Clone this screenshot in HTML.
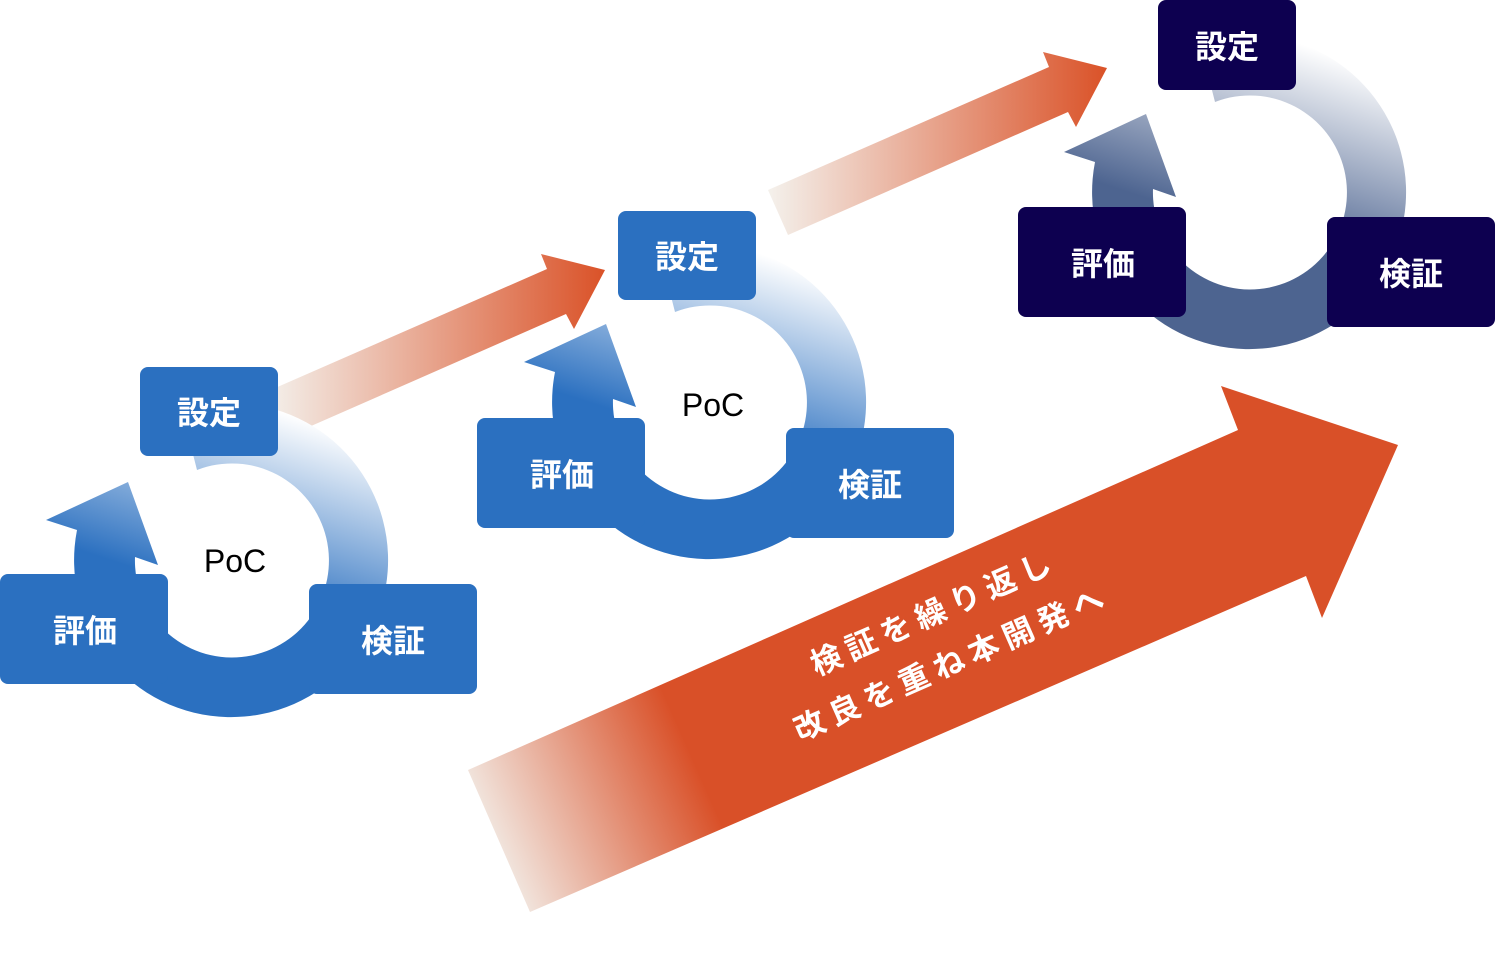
<!DOCTYPE html>
<html><head><meta charset="utf-8"><style>
html,body{margin:0;padding:0;background:#fff;}
svg{display:block;}
.lb{font-family:"Liberation Sans","Noto Sans CJK JP",sans-serif;font-weight:bold;font-size:32px;fill:#fff;}
.poc{font-family:"Liberation Sans",sans-serif;font-size:32px;fill:#000;}
.at{font-family:"Liberation Sans","Noto Sans CJK JP",sans-serif;font-weight:bold;font-size:31px;fill:#fff;letter-spacing:7px;}
</style></head><body>
<svg width="1495" height="960" viewBox="0 0 1495 960" xmlns="http://www.w3.org/2000/svg">
<defs>
<linearGradient id="rb" gradientUnits="userSpaceOnUse" x1="60" y1="-145" x2="0" y2="40">
<stop offset="0" stop-color="#ffffff"/><stop offset="1" stop-color="#2b70c0"/></linearGradient>
<linearGradient id="rd" gradientUnits="userSpaceOnUse" x1="60" y1="-145" x2="0" y2="40">
<stop offset="0" stop-color="#ffffff"/><stop offset="1" stop-color="#4d6490"/></linearGradient>
<linearGradient id="sa" x1="0" y1="0.5" x2="1" y2="0.5">
<stop offset="0" stop-color="#f4f1ec"/><stop offset="1" stop-color="#da5228"/></linearGradient>
<linearGradient id="ba" gradientUnits="userSpaceOnUse" x1="480" y1="845" x2="690" y2="752">
<stop offset="0" stop-color="#f3f0eb"/><stop offset="1" stop-color="#d95028"/></linearGradient>
<path id="ring" d="M-155,-30 L-186,-40 L-104,-78 L-74,5 L-97,-3 A97 97 0 1 0 -35,-90 L-50,-149 A157 157 0 1 1 -155,-30 Z"/>
</defs>

<polygon fill="url(#sa)" points="266,392 547,269 541,254 605,270 574,329 566,314 286,437"/>
<polygon fill="url(#sa)" points="768,190 1049,67 1043,52 1107,68 1076,127 1068,112 788,235"/>

<polygon fill="url(#ba)" points="468,770 1238,430 1221,386 1398,445 1322,618 1306,576 530,912"/>
<text class="at" transform="translate(935,615) rotate(-23.8)" text-anchor="middle" dominant-baseline="middle">検証を繰り返し</text>
<text class="at" transform="translate(953,665) rotate(-23.8)" text-anchor="middle" dominant-baseline="middle">改良を重ね本開発へ</text>

<g transform="translate(232,560)">
<use href="#ring" fill="url(#rb)"/>
<rect x="-92" y="-193" width="138" height="89" rx="8" fill="#2b70c0"/>
<rect x="-232" y="14" width="168" height="110" rx="8" fill="#2b70c0"/>
<rect x="77" y="24" width="168" height="110" rx="8" fill="#2b70c0"/>
<text class="lb" x="-23" y="-136" text-anchor="middle">設定</text>
<text class="lb" x="-147" y="82" text-anchor="middle">評価</text>
<text class="lb" x="161" y="92" text-anchor="middle">検証</text>
<text class="poc" x="3" y="12" text-anchor="middle">PoC</text>
</g>

<g transform="translate(710,402)">
<use href="#ring" fill="url(#rb)"/>
<rect x="-92" y="-191" width="138" height="89" rx="8" fill="#2b70c0"/>
<rect x="-233" y="16" width="168" height="110" rx="8" fill="#2b70c0"/>
<rect x="76" y="26" width="168" height="110" rx="8" fill="#2b70c0"/>
<text class="lb" x="-23" y="-134" text-anchor="middle">設定</text>
<text class="lb" x="-148" y="84" text-anchor="middle">評価</text>
<text class="lb" x="160" y="94" text-anchor="middle">検証</text>
<text class="poc" x="3" y="14" text-anchor="middle">PoC</text>
</g>

<g transform="translate(1250,192)">
<use href="#ring" fill="url(#rd)"/>
<rect x="-92" y="-192" width="138" height="90" rx="8" fill="#0d0050"/>
<rect x="-232" y="15" width="168" height="110" rx="8" fill="#0d0050"/>
<rect x="77" y="25" width="168" height="110" rx="8" fill="#0d0050"/>
<text class="lb" x="-23" y="-134" text-anchor="middle">設定</text>
<text class="lb" x="-147" y="83" text-anchor="middle">評価</text>
<text class="lb" x="161" y="93" text-anchor="middle">検証</text>
</g>
</svg>
</body></html>
